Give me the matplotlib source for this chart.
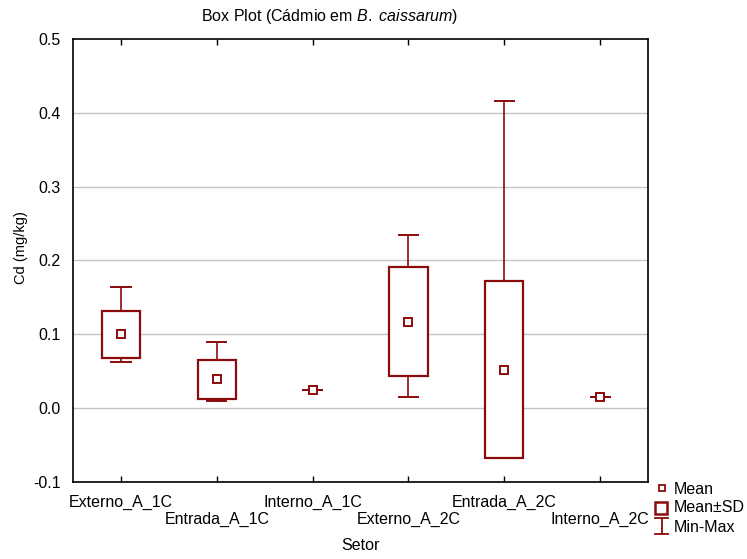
import matplotlib
matplotlib.use('Agg')
import matplotlib.pyplot as plt
from matplotlib.patches import Rectangle
from matplotlib.lines import Line2D

plt.rcParams['font.family'] = ['Liberation Sans', 'DejaVu Sans']
plt.rcParams['mathtext.fontset'] = 'custom'
plt.rcParams['mathtext.it'] = 'Liberation Sans:italic'
plt.rcParams['mathtext.rm'] = 'Liberation Sans'

# Cd concentration summary by sector
setores = ['Externo_A_1C', 'Entrada_A_1C', 'Interno_A_1C',
           'Externo_A_2C', 'Entrada_A_2C', 'Interno_A_2C']
media = [0.100, 0.039, 0.025, 0.117, 0.052, 0.015]
desvio = [0.032, 0.026, 0.0, 0.074, 0.120, 0.0]
minimo = [0.062, 0.010, 0.025, 0.015, 0.010, 0.015]
maximo = [0.164, 0.089, 0.025, 0.235, 0.416, 0.015]

cor = '#8b0a0a'
W, H = 747, 559

fig = plt.figure(figsize=(W / 100, H / 100), dpi=100)
ax = fig.add_axes([73 / W, 1 - 482 / H, (648 - 73) / W, (482 - 39) / H])

box_w = 0.40
cap_w = 0.20
for i, (m, sd, lo, hi) in enumerate(zip(media, desvio, minimo, maximo)):
    # whisker + caps (min-max)
    ax.plot([i, i], [lo, hi], color=cor, lw=1.2, zorder=2)
    ax.plot([i - cap_w / 2, i + cap_w / 2], [hi, hi], color=cor, lw=1.4, zorder=2)
    ax.plot([i - cap_w / 2, i + cap_w / 2], [lo, lo], color=cor, lw=1.4, zorder=2)
    # mean +- SD box (single samples have no SD)
    if sd > 0:
        ax.add_patch(Rectangle((i - box_w / 2, m - sd), box_w, 2 * sd,
                               facecolor='white', edgecolor=cor, lw=1.6, zorder=3))
    # mean marker
    ax.plot(i, m, marker='s', ms=6, mfc='white', mec=cor, mew=1.4, zorder=4)

ax.set_xlim(-0.5, len(setores) - 0.5)
ax.set_ylim(-0.1, 0.5)
ax.set_yticks([-0.1, 0.0, 0.1, 0.2, 0.3, 0.4, 0.5])
ax.set_yticklabels(['-0.1', '0.0', '0.1', '0.2', '0.3', '0.4', '0.5'], fontsize=11.5)
for y in [0.0, 0.1, 0.2, 0.3, 0.4]:
    ax.axhline(y, color='#c4c4c4', lw=1.0, zorder=1)

ax.set_xticks(range(len(setores)))
ax.set_xticklabels([])
ax.tick_params(axis='x', direction='in', length=4, top=True, bottom=True, width=1)
ax.tick_params(axis='y', length=0, pad=9)
for s in ax.spines.values():
    s.set_linewidth(1.2)

# staggered category labels
for i, nome in enumerate(setores):
    dy = 0.0 if i % 2 == 0 else 0.039
    ax.text(i, -0.045 - dy, nome, transform=ax.get_xaxis_transform(),
            ha='center', va='center', fontsize=11.5)

fig.text(360 / W, 1 - 546 / H, 'Setor', ha='center', va='center', fontsize=11.5)
fig.text(21 / W, 1 - 248 / H, 'Cd (mg/kg)', ha='center', va='center',
         rotation=90, fontsize=10.5)
fig.text(330 / W, 1 - 17 / H, r'Box Plot (Cádmio em $\it{B.}$ $\it{caissarum}$)',
         ha='center', va='center', fontsize=11.5)

# legend
fig.add_artist(Line2D([662 / W], [1 - 488 / H], marker='s', ms=5, mfc='white',
                      mec=cor, mew=1.3, transform=fig.transFigure))
fig.add_artist(Rectangle((655 / W, 1 - 514 / H), 12 / W, 12 / H, facecolor='white',
                         edgecolor=cor, lw=1.8, transform=fig.transFigure))
for xs, ys in [([655, 668], [518, 518]), ([655, 668], [534, 534]),
               ([661.5, 661.5], [518, 534])]:
    fig.add_artist(Line2D([x / W for x in xs], [1 - y / H for y in ys],
                          color=cor, lw=1.3, transform=fig.transFigure))
for txt, y in [('Mean', 490), ('Mean±SD', 508), ('Min-Max', 527)]:
    fig.text(674 / W, 1 - y / H, txt, ha='left', va='center', fontsize=11.5)

fig.savefig('out.png', dpi=100)
